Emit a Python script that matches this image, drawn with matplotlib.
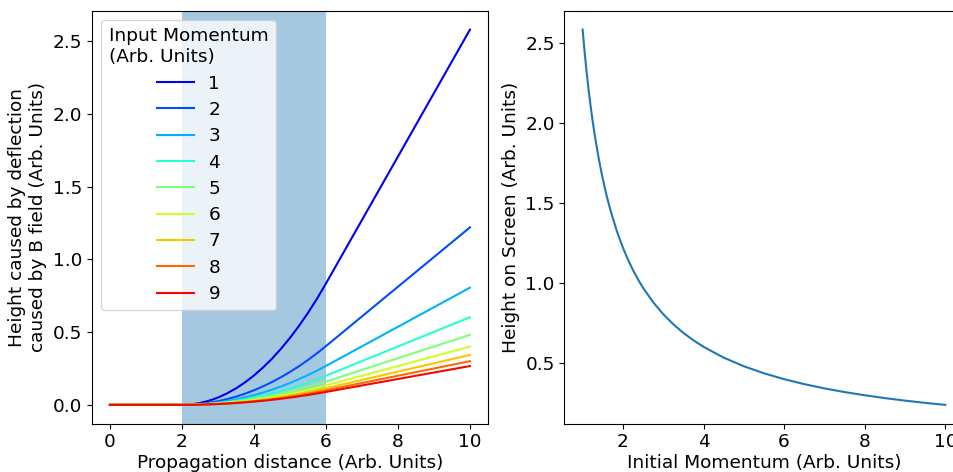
import matplotlib
matplotlib.use("Agg")
import matplotlib.pyplot as plt
from matplotlib import cm

# propagation distance sample points (field region 2 -> 6)
distance = [0, 2, 2.25, 2.5, 2.75, 3, 3.25, 3.5, 3.75, 4, 4.25, 4.5, 4.75,
            5, 5.25, 5.5, 5.75, 6, 10]

# input momenta and the height of each track at the distances above
momenta = [1, 2, 3, 4, 5, 6, 7, 8, 9]
heights = [
    [0, 0, 0.0031, 0.0125, 0.0282, 0.0501, 0.0784, 0.1131, 0.1543, 0.2020,
     0.2564, 0.3175, 0.3856, 0.4606, 0.5429, 0.6325, 0.7298, 0.8349, 2.5806],
    [0, 0, 0.0016, 0.0063, 0.0141, 0.0250, 0.0391, 0.0563, 0.0767, 0.1003,
     0.1270, 0.1569, 0.1900, 0.2263, 0.2658, 0.3086, 0.3547, 0.4041, 1.2206],
    [0, 0, 0.0010, 0.0042, 0.0094, 0.0167, 0.0260, 0.0375, 0.0511, 0.0667,
     0.0845, 0.1042, 0.1263, 0.1504, 0.1765, 0.2049, 0.2353, 0.2679, 0.8060],
    [0, 0, 0.0008, 0.0031, 0.0070, 0.0125, 0.0195, 0.0281, 0.0383, 0.0500,
     0.0633, 0.0781, 0.0946, 0.1127, 0.1322, 0.1534, 0.1762, 0.2005, 0.6025],
    [0, 0, 0.0006, 0.0025, 0.0056, 0.0100, 0.0156, 0.0225, 0.0306, 0.0400,
     0.0506, 0.0625, 0.0757, 0.0901, 0.1057, 0.1226, 0.1408, 0.1603, 0.4813],
    [0, 0, 0.0005, 0.0021, 0.0047, 0.0083, 0.0130, 0.0188, 0.0255, 0.0333,
     0.0422, 0.0521, 0.0630, 0.0750, 0.0881, 0.1021, 0.1173, 0.1335, 0.4008],
    [0, 0, 0.0004, 0.0018, 0.0040, 0.0071, 0.0112, 0.0161, 0.0219, 0.0286,
     0.0362, 0.0446, 0.0540, 0.0643, 0.0755, 0.0875, 0.1005, 0.1144, 0.3433],
    [0, 0, 0.0004, 0.0016, 0.0035, 0.0063, 0.0098, 0.0141, 0.0191, 0.0250,
     0.0316, 0.0391, 0.0473, 0.0563, 0.0660, 0.0766, 0.0879, 0.1001, 0.3004],
    [0, 0, 0.0003, 0.0014, 0.0031, 0.0056, 0.0087, 0.0125, 0.0170, 0.0222,
     0.0281, 0.0347, 0.0420, 0.0500, 0.0587, 0.0681, 0.0781, 0.0889, 0.2669],
]

# final height on the screen against initial momentum
init_momentum = [1, 1.05, 1.1, 1.15, 1.2, 1.25, 1.3, 1.4, 1.5, 1.6, 1.7, 1.85,
                 2, 2.125, 2.25, 2.375, 2.5, 2.75, 3, 3.25, 3.5, 3.75,
                 4, 4.5, 5, 5.5, 6, 6.5, 7, 7.5, 8, 8.5, 9, 9.5, 10]
screen_height = [2.5806, 2.4399, 2.3144, 2.2021, 2.1005, 2.0083, 1.9242, 1.7762,
                 1.6499, 1.5409, 1.4457, 1.3234, 1.2206, 1.1465, 1.0810, 1.0226,
                 0.9705, 0.8806, 0.8060, 0.7432, 0.6895, 0.6431, 0.6025, 0.5351,
                 0.4813, 0.4373, 0.4008, 0.3698, 0.3433, 0.3203, 0.3004, 0.2826,
                 0.2669, 0.2528, 0.2405]

field_start, field_end = 2, 6

plt.rcParams['font.size'] = 13.3

fig = plt.figure(figsize=(9.54, 4.72), dpi=100)
ax1 = fig.add_axes([0.0964, 0.1025, 0.4151, 0.8745])
ax2 = fig.add_axes([0.5917, 0.1025, 0.4182, 0.8745])

# left: trajectories through the field
ax1.axvspan(field_start, field_end, alpha=0.4)
for p, h in zip(momenta, heights):
    ax1.plot(distance, h, color=cm.jet(p / 10), label=str(p))
ax1.set_xlabel('Propagation distance (Arb. Units)', labelpad=2)
ax1.set_ylabel('Height caused by deflection\ncaused by B field (Arb. Units)')
ax1.legend(title='Input Momentum\n(Arb. Units)', loc='upper left',
           labelspacing=0.45)

# right: height on screen
ax2.plot(init_momentum, screen_height)
ax2.set_xlabel('Initial Momentum (Arb. Units)', labelpad=2)
ax2.set_ylabel('Height on Screen (Arb. Units)')

fig.savefig('out.png', dpi=100)
